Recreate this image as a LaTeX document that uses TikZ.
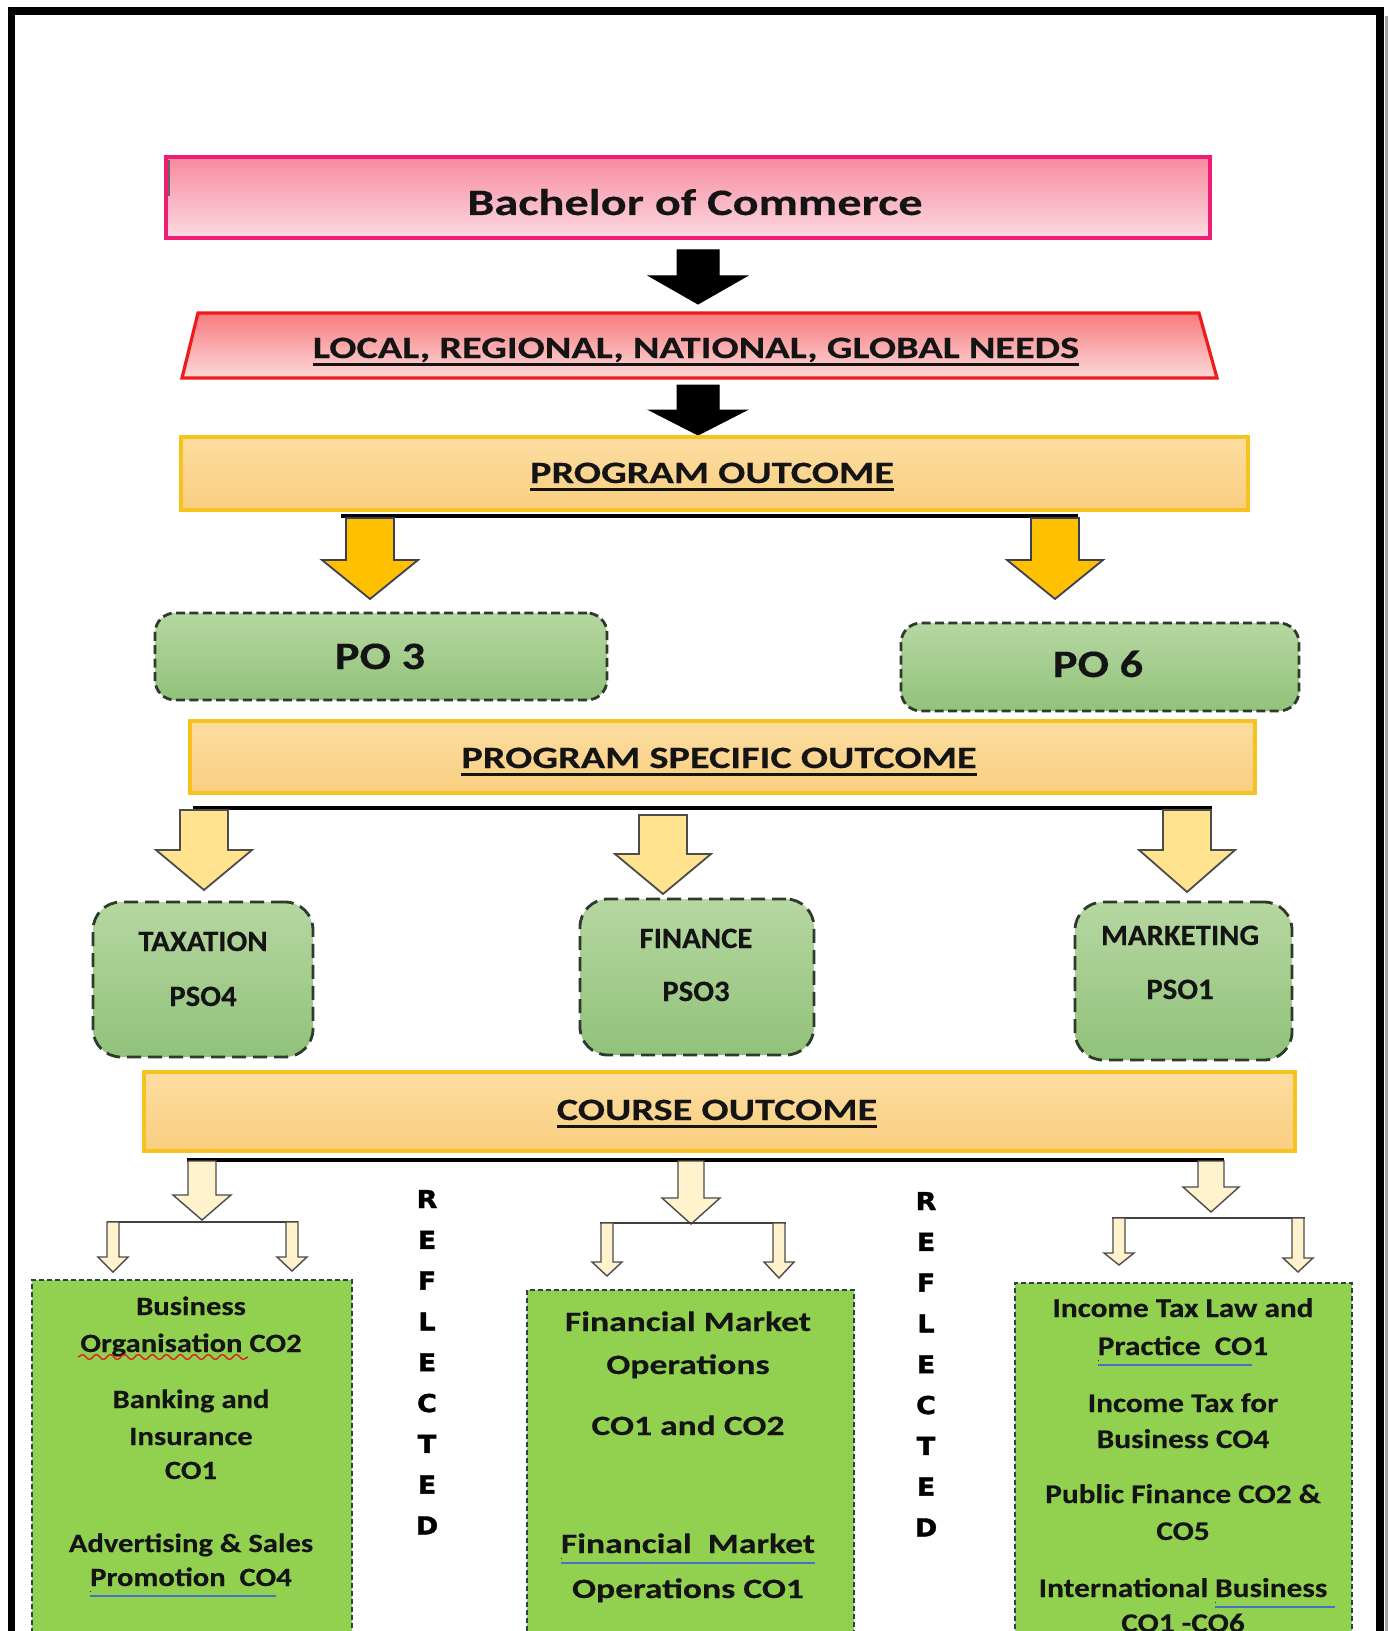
\documentclass[tikz,border=0pt]{standalone}
\usepackage{fontspec}
\setmainfont{Carlito}
\newfontfamily\fH[FakeStretch=1.30,FakeBold=0.3]{Carlito}
\newfontfamily\fP[FakeStretch=1.20,FakeBold=0.3]{Carlito}
\newfontfamily\fS[FakeStretch=1.04,FakeBold=0.3]{Carlito}
\newfontfamily\fL[FakeStretch=1.16,FakeBold=0.3]{Carlito}
\newfontfamily\fM[FakeStretch=1.27,FakeBold=0.3]{Carlito}
\newfontfamily\fR[FakeStretch=1.10,FakeBold=1.6]{DejaVu Sans}
\usetikzlibrary{decorations.pathmorphing}

\definecolor{bachtop}{HTML}{F78AA0}
\definecolor{bachbot}{HTML}{FCDAE1}
\definecolor{bachdraw}{HTML}{EE1E71}
\definecolor{needtop}{HTML}{F77B7E}
\definecolor{needbot}{HTML}{FDD8D8}
\definecolor{needdraw}{HTML}{EE1B1B}
\definecolor{bartop}{HTML}{FCDDA0}
\definecolor{barbot}{HTML}{F9CE80}
\definecolor{bardraw}{HTML}{F7C21E}
\definecolor{pogtop}{HTML}{B6D7A1}
\definecolor{pogbot}{HTML}{91C27A}
\definecolor{podraw}{HTML}{2D3A2D}
\definecolor{cogreen}{HTML}{92D050}
\definecolor{codraw}{HTML}{2B3F55}
\definecolor{arrgold}{HTML}{FFC000}
\definecolor{arrlight}{HTML}{FFE38F}
\definecolor{arrcream}{HTML}{FFF2CC}
\definecolor{arrline}{HTML}{3A3F55}
\definecolor{wordblue}{HTML}{4472C4}
\definecolor{wordred}{HTML}{E02020}

\newcommand{\hul}[1]{\setbox0\hbox{#1}\rlap{\rule[-3.8pt]{\wd0}{1.3pt}}\box0\relax}
\newcommand{\blueul}[2][0pt]{\setbox0\hbox{#2}\dimen0=\wd0\advance\dimen0 by #1\relax\rlap{\color{black!85}\rule[-2.9pt]{\dimen0}{0.6pt}}\rlap{\color{wordblue}\rule[-5.3pt]{\dimen0}{0.8pt}}\box0\relax}
\newcommand{\blockarr}[7]{\draw[#1] (#2-#6,#3) -- (#2+#6,#3) -- (#2+#6,#4) -- (#2+#7,#4) -- (#2,#5) -- (#2-#7,#4) -- (#2-#6,#4) -- cycle;}

\begin{document}
\begin{tikzpicture}[x=0.5pt,y=-0.5pt,
  every node/.style={inner sep=0pt, outer sep=0pt},
  txt/.style={anchor=base, text=black!92},
  hd/.style={txt, font={\fH\bfseries\fontsize{15.5pt}{18pt}\selectfont}},
  bigt/.style={txt, font={\fH\bfseries\fontsize{18.6pt}{22pt}\selectfont}},
  pot/.style={txt, font={\fP\bfseries\fontsize{19.4pt}{22pt}\selectfont}},
  psot/.style={txt, font={\fS\bfseries\fontsize{14.8pt}{17pt}\selectfont}},
  lt/.style={txt, font={\fL\bfseries\fontsize{13.2pt}{16pt}\selectfont}},
  mt/.style={txt, font={\fM\bfseries\fontsize{14pt}{16pt}\selectfont}},
  rt/.style={txt, font={\fL\bfseries\fontsize{13.5pt}{16pt}\selectfont}},
  refl/.style={anchor=base, text=black, font={\fR\bfseries\fontsize{12.3pt}{14pt}\selectfont}},
  bachbox/.style={rectangle, draw=bachdraw, line width=1.6pt, top color=bachtop, bottom color=bachbot},
  needbox/.style={draw=needdraw, line width=1.6pt, top color=needtop, bottom color=needbot},
  barbox/.style={rectangle, draw=bardraw, line width=2.2pt, top color=bartop, bottom color=barbot},
  pobox/.style={rectangle, rounded corners=10pt, draw=podraw, line width=1.4pt, dash pattern=on 4.5pt off 2.2pt, top color=pogtop, bottom color=pogbot},
  psobox/.style={rectangle, rounded corners=14pt, draw=podraw, line width=1.4pt, dash pattern=on 7pt off 3.5pt, top color=pogtop, bottom color=pogbot},
  cobox/.style={rectangle, draw=codraw, line width=0.8pt, dash pattern=on 2.5pt off 1.5pt, fill=cogreen},
  hline/.style={draw=black, line width=2pt},
  brk/.style={draw=black!75, line width=1pt},
  blk/.style={fill=black, draw=black, line width=0.5pt, line join=miter},
  gold/.style={fill=arrgold, draw=arrline, line width=0.9pt},
  light/.style={fill=arrlight, draw=black!70, line width=0.9pt},
  cream/.style={fill=arrcream, draw=black!70, line width=0.7pt}
]
\useasboundingbox (0,0) rectangle (1388,1631);
\clip (0,0) rectangle (1388,1631);
\fill[white] (0,0) rectangle (1388,1631);

% outer frame
\draw[black!35, line width=1.5pt] (1386,16) -- (1386,1700);
\draw[line width=3.8pt, line join=miter] (11.5,1700) -- (11.5,11) -- (1380,11) -- (1380,1700);

% Bachelor of Commerce
\node[bachbox, minimum width=522pt, minimum height=40.5pt] (bach) at (688,197.5) {};
\draw[black!60, line width=0.8pt] (169,160) -- (169,196);
\node[bigt] (bacht) at (695,215) {Bachelor of Commerce};

\blockarr{blk}{698}{250}{276}{304}{21}{49}

% needs trapezium
\path[needbox] (198,313) -- (1199,313) -- (1217,378) -- (182,378) -- cycle;
\node[hd] (needs) at (696,358) {\hul{LOCAL, REGIONAL, NATIONAL, GLOBAL NEEDS}};

\blockarr{blk}{698}{385}{410}{435}{21}{49}

% program outcome
\node[barbox, minimum width=533.5pt, minimum height=36.5pt] (pobar) at (714.5,473.5) {};
\node[hd] (pot) at (712,483) {\hul{PROGRAM OUTCOME}};

\draw[hline] (341,516) -- (1078,516);
\blockarr{gold}{370}{518}{560}{599}{24}{48}
\blockarr{gold}{1055}{518}{560}{599}{24}{48}

\node[pobox, minimum width=226pt, minimum height=43.5pt] (po3) at (381,656.5) {};
\node[pot] (po3t) at (380,669) {PO 3};
\node[pobox, minimum width=199pt, minimum height=44pt] (po6) at (1100,667) {};
\node[pot] (po6t) at (1098,677) {PO 6};

% program specific outcome
\node[barbox, minimum width=532.5pt, minimum height=36pt] (psobar) at (722.5,757) {};
\node[hd] (psot) at (719,768) {\hul{PROGRAM SPECIFIC OUTCOME}};

\draw[hline] (193,808) -- (1212,808);
\blockarr{light}{204}{810}{850}{890}{24}{48}
\blockarr{light}{663}{815}{854}{894}{24}{48}
\blockarr{light}{1187}{810}{850}{892}{24}{48}

\node[psobox, minimum width=110pt, minimum height=77.5pt] (tax) at (203,979.5) {};
\node[psot] (taxa) at (203,951) {TAXATION};
\node[psot] (taxb) at (203,1006) {PSO4};
\node[psobox, minimum width=117pt, minimum height=78pt] (fin) at (697,977) {};
\node[psot] (fina) at (696,948) {FINANCE};
\node[psot] (finb) at (696,1001) {PSO3};
\node[psobox, minimum width=108.5pt, minimum height=79pt] (mkt) at (1183.5,981) {};
\node[psot] (mkta) at (1180,945) {MARKETING};
\node[psot] (mktb) at (1180,999) {PSO1};

% course outcome
\node[barbox, minimum width=575.5pt, minimum height=39.5pt] (cobar) at (719.5,1111.5) {};
\node[hd] (cot) at (717,1120) {\hul{COURSE OUTCOME}};

\draw[hline] (187,1160) -- (1224,1160);
\blockarr{cream}{202}{1161}{1195}{1220}{14}{29}
\blockarr{cream}{691}{1161}{1198}{1224}{13}{29}
\blockarr{cream}{1211}{1161}{1187}{1212}{13}{28}

% brackets
\draw[brk] (107,1222) -- (298,1222);
\blockarr{cream}{113}{1222}{1257}{1272}{6}{15}
\blockarr{cream}{292}{1222}{1257}{1271}{6}{15}
\draw[brk] (600,1223) -- (786,1223);
\blockarr{cream}{607}{1223}{1262}{1276}{6}{15}
\blockarr{cream}{779}{1223}{1262}{1278}{6}{15}
\draw[brk] (1112,1218) -- (1305,1218);
\blockarr{cream}{1119}{1218}{1253}{1265}{6}{15}
\blockarr{cream}{1298}{1218}{1258}{1272}{6}{15}

% course boxes
\node[cobox, minimum width=160pt, minimum height=210pt] (cob1) at (192,1490) {};
\node[cobox, minimum width=163.5pt, minimum height=205pt] (cob2) at (690.5,1495) {};
\node[cobox, minimum width=168.5pt, minimum height=208.5pt] (cob3) at (1183.5,1491.5) {};

% left box text
\node[lt] (l1) at (191,1315) {Business};
\node[lt] (l2) at (191,1352) {Organisation CO2};
\draw[wordred, line width=0.7pt, decorate, decoration={snake, amplitude=1.2pt, segment length=7pt}] (78,1357) -- (248,1357);
\node[lt] (l3) at (191,1408) {Banking and};
\node[lt] (l4) at (191,1445) {Insurance};
\node[lt] (l5) at (191,1479) {CO1};
\node[lt] (l6) at (191,1552) {Advertising \& Sales};
\node[lt] (l7) at (191,1586) {\blueul{Promotion\ \ CO}4};

% middle box text
\node[mt] (m1) at (688,1331) {Financial Market};
\node[mt] (m2) at (688,1374) {Operations};
\node[mt] (m3) at (688,1435) {CO1 and CO2};
\node[mt] (m4) at (688,1553) {\blueul{Financial\ \ Market}};
\node[mt] (m5) at (688,1598) {Operations CO1};

% right box text
\node[rt] (r1) at (1183,1317) {Income Tax Law and};
\node[rt] (r2) at (1183,1355) {\blueul{Practice\ \ CO}1};
\node[rt] (r3) at (1183,1412) {Income Tax for};
\node[rt] (r4) at (1183,1448) {Business CO4};
\node[rt] (r5) at (1183,1503) {Public Finance CO2 \&};
\node[rt] (r6) at (1183,1540) {CO5};
\node[rt] (r7) at (1183,1597) {International \blueul[4pt]{Business}};
\node[rt] (r8) at (1183,1632) {CO1 -CO6};

% REFLECTED columns
\foreach \L [count=\i from 0] in {R,E,F,L,E,C,T,E,D} {
  \node[refl] (ra\i) at (427,1208+40.8*\i) {\L};
  \node[refl] (rb\i) at (926,1210+40.8*\i) {\L};
}
\end{tikzpicture}
\end{document}
